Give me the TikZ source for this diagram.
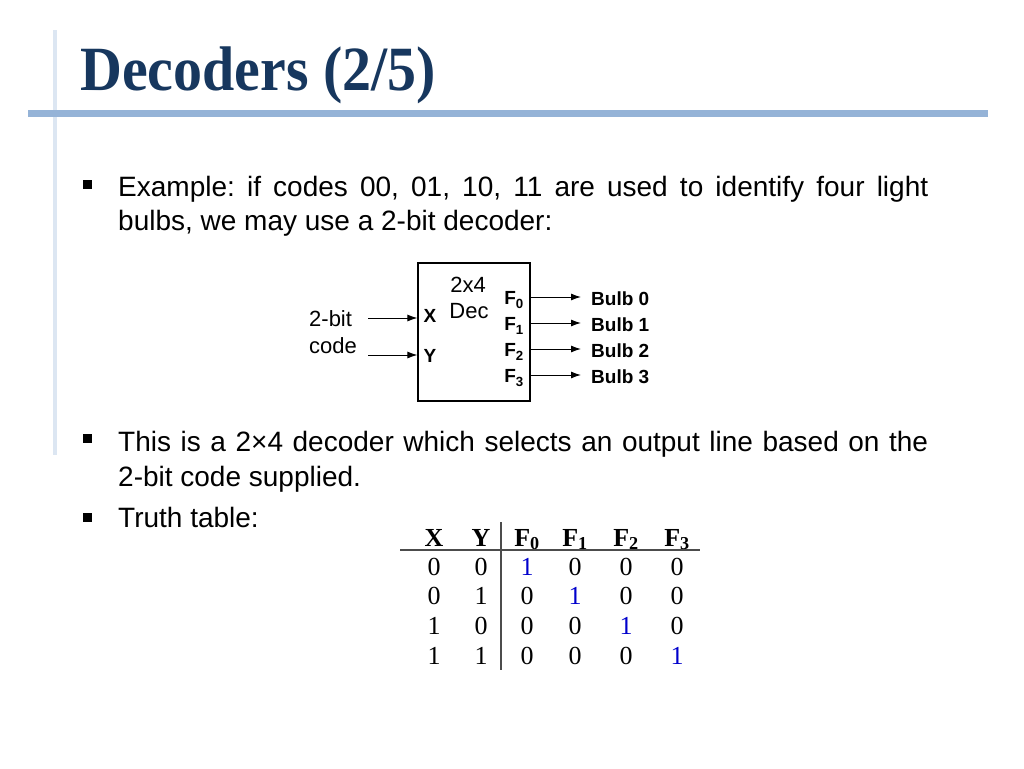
\documentclass[tikz,border=0pt]{standalone}
\usepackage{graphicx}
\usepackage{fontspec}
\usetikzlibrary{arrows.meta}
\setmainfont{Liberation Serif}
\setsansfont{Liberation Sans}
\frenchspacing
\definecolor{titleblue}{HTML}{17375E}
\definecolor{barblue}{HTML}{95B3D7}
\definecolor{sideblue}{HTML}{DCE6F2}
\definecolor{onecol}{HTML}{0000CC}
\begin{document}
\begin{tikzpicture}[x=1pt,y=-1pt,>={Latex[length=10pt,width=7pt]},
	body/.style={font=\sffamily\fontsize{28}{34}\selectfont,anchor=base west,inner sep=0},
	tab/.style={font=\fontsize{26}{30}\selectfont,anchor=base,inner sep=0},
	lbl/.style={font=\sffamily\fontsize{22}{26}\selectfont,inner sep=0},
	pin/.style={font=\sffamily\bfseries\fontsize{19}{22}\selectfont,inner sep=0},
	bulb/.style={pin,anchor=west,inner xsep=10pt}]
	\useasboundingbox[fill=white] (0,0) rectangle (1024,768);
	\fill[sideblue] (53,30) rectangle (57,455);
	\fill[barblue] (28,110) rectangle (988,117);
	\node[anchor=base west,inner sep=0,text=titleblue,font=\bfseries\fontsize{63}{70}\selectfont] (title) at (80,90) {\scalebox{0.92}[1]{Decoders (2/5)}};
	\foreach \by in {184,438,517}
		\fill (83,\by-4.5) rectangle (92,\by+4.5);
	\node[body] (l1) at (118,196) {\makebox[810pt][s]{Example: if codes 00, 01, 10, 11 are used to identify four light}};
	\node[body] (l2) at (118,230) {bulbs, we may use a 2-bit decoder:};
	\node[body] (l3) at (118,451) {\makebox[810pt][s]{This is a 2×4 decoder which selects an output line based on the}};
	\node[body] (l4) at (118,486) {2-bit code supplied.};
	\node[body] (l5) at (118,527) {Truth table:};
	\node[draw,line width=1.2pt,minimum width=112pt,minimum height=138pt] (dec) at (474,332) {};
	\node[lbl] (kind) at (468,285) {2x4};
	\node[lbl] (dname) at (469,311) {Dec};
	\node[pin] (x) at (430,316) {X};
	\node[pin] (y) at (430,356) {Y};
	\node[lbl,anchor=west] (bits) at (309,319) {2-bit};
	\node[lbl,anchor=west] (code) at (309,346) {code};
	\coordinate (in0) at (368,318);
	\coordinate (in1) at (368,355);
	\draw[->,line width=1pt] (in0) -- (in0 -| dec.west);
	\draw[->,line width=1pt] (in1) -- (in1 -| dec.west);
	\foreach \i/\oy in {0/297,1/323,2/349,3/375}{
		\node[pin] (f\i) at (514,\oy+3) {F\textsubscript{\i}};
		\coordinate (o\i) at (dec.east |- 0,\oy);
		\node[bulb] (b\i) at (581,\oy+2) {Bulb \i};
		\draw[->,line width=1pt] (o\i) -- (b\i.west |- o\i);
	}
	\foreach \h/\cx [count=\c from 0] in {X/434,Y/481,F\textsubscript{0}/527,F\textsubscript{1}/575,F\textsubscript{2}/626,F\textsubscript{3}/677}
		\node[tab] (h\c) at (\cx,546) {\bfseries \h};
	\foreach \n/\ry/\vx/\vy in {0/575/0/0,1/604/0/1,2/634/1/0,3/664/1/1}{
		\node[tab] (x\n) at (434,\ry) {\vx};
		\node[tab] (y\n) at (481,\ry) {\vy};
		\foreach \k/\fx in {0/527,1/575,2/626,3/677}{
			\ifnum\k=\n
				\node[tab,text=onecol] (v\n\k) at (\fx,\ry) {1};
			\else
				\node[tab] (v\n\k) at (\fx,\ry) {0};
			\fi
		}
	}
	\draw[line width=1.2pt,black!70] (400,550) -- (700,550);
	\draw[line width=1.2pt,black!70] (501,522) -- (501,670);
\end{tikzpicture}
\end{document}
